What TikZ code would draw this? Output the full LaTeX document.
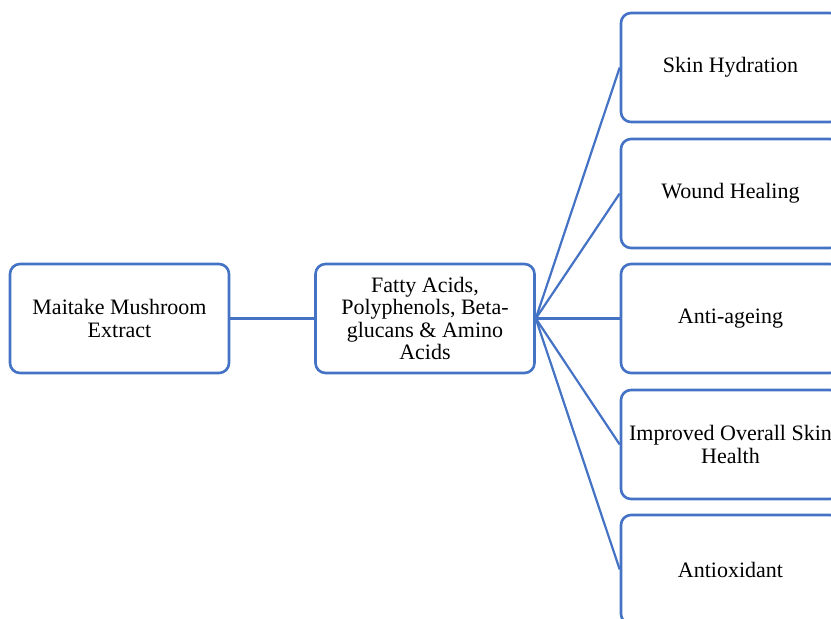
\documentclass[tikz,border=0pt]{standalone}
\usepackage{fontspec}
\setmainfont{Liberation Serif}
\definecolor{boxblue}{HTML}{4472C4}

\begin{document}
\begin{tikzpicture}[x=0.5pt, y=-0.5pt,
        box/.style={draw=boxblue, line width=1.3pt, rounded corners=5pt, fill=white,
            minimum width=109.5pt, minimum height=54.5pt, inner sep=0pt, align=center,
            font=\fontsize{11}{11.2}\selectfont},
        link/.style={draw=boxblue, line width=1.1pt}]
        \clip (0, 0) rectangle (831, 618);

        \node[box] (extract) at (119.5, 318.5) {Maitake Mushroom\\Extract};
        \node[box] (compounds) at (425, 318.5) {Fatty Acids,\\Polyphenols, Beta-\\glucans \& Amino\\Acids};

        \begin{scope}[every node/.style={box}]
            \node (hydration) at (730.5, 67.5) {Skin Hydration};
            \node (wound) at (730.5, 193.5) {Wound Healing};
            \node (ageing) at (730.5, 318.5) {Anti-ageing};
            \node (health) at (730.5, 444.5) {Improved Overall Skin\\Health};
            \node (oxidant) at (730.5, 569.5) {Antioxidant};
        \end{scope}

        \draw[link, line width=1.5pt] (extract) -- (compounds);
        \draw[link] (compounds.east) -- (hydration.west);
        \draw[link] (compounds.east) -- (wound.west);
        \draw[link, line width=1.5pt] (compounds.east) -- (ageing.west);
        \draw[link] (compounds.east) -- (health.west);
        \draw[link] (compounds.east) -- (oxidant.west);
    \end{tikzpicture}
\end{document}
